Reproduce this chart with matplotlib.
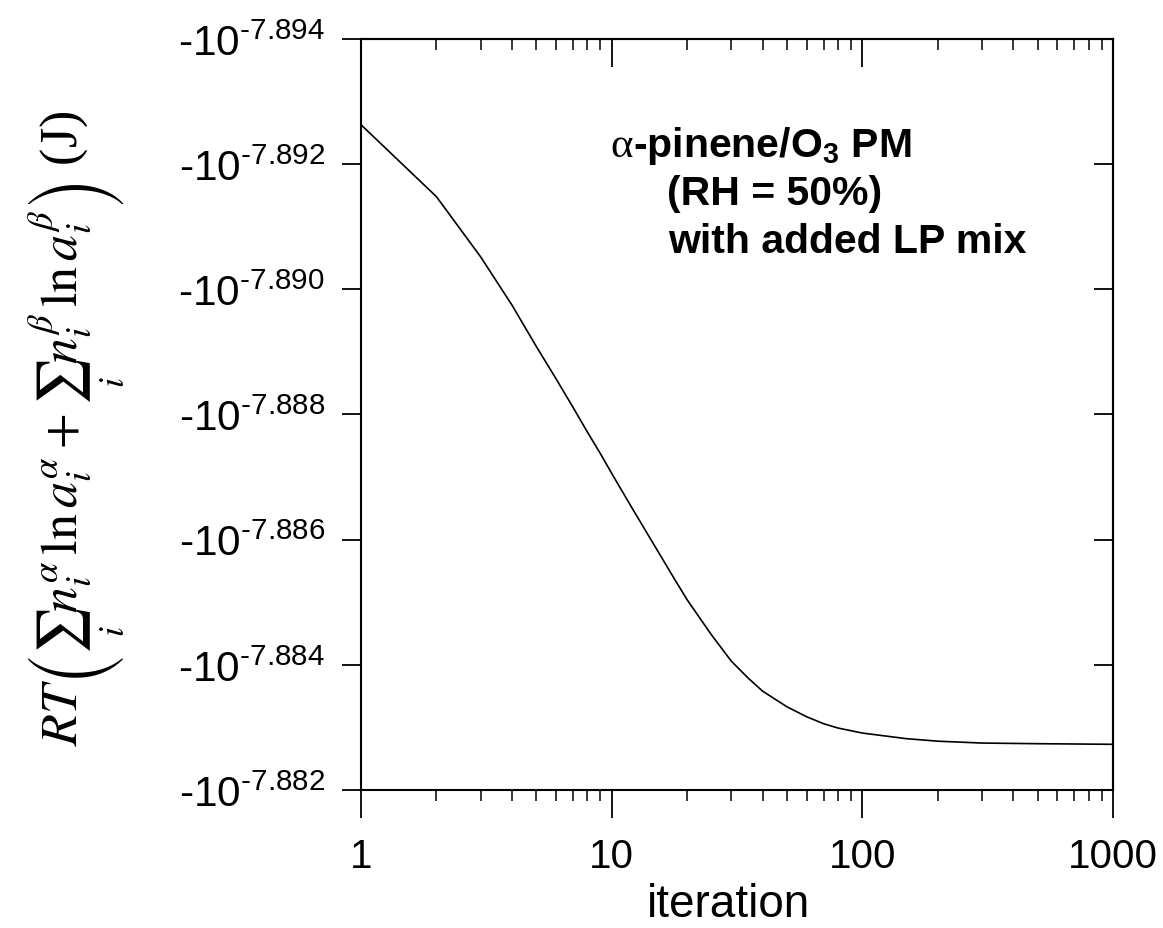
import numpy as np
import matplotlib.pyplot as plt
from matplotlib.ticker import FixedLocator, FuncFormatter, LogLocator, NullFormatter

# === Data ===
# y values are the exponent e in -10^e
iteration = [1, 2, 3, 4, 5, 6, 7, 8, 9, 10, 12, 15, 18, 20, 25, 30, 35, 40, 50, 60,
             70, 80, 100, 150, 200, 300, 500, 1000]
exponent = [-7.89263, -7.89148, -7.89052, -7.88975, -7.88909, -7.88857, -7.88812,
            -7.88772, -7.88738, -7.88706, -7.88652, -7.88587, -7.88534, -7.88504,
            -7.88448, -7.88406, -7.88379, -7.88358, -7.88333, -7.88317, -7.88306,
            -7.88299, -7.88291, -7.88282, -7.88278, -7.88275, -7.88274, -7.88273]
ytick_vals = [-7.894, -7.892, -7.890, -7.888, -7.886, -7.884, -7.882]
xtick_vals = [1, 10, 100, 1000]

plt.rcParams['font.family'] = ['Liberation Sans', 'DejaVu Sans']
plt.rcParams['mathtext.fontset'] = 'custom'
plt.rcParams['mathtext.rm'] = 'Liberation Sans'
plt.rcParams['mathtext.it'] = 'Liberation Sans:italic'
plt.rcParams['mathtext.bf'] = 'Liberation Sans:bold'

W, H = 1163, 929
fig = plt.figure(figsize=(W / 100, H / 100), dpi=100)
ax = fig.add_axes([361 / W, 1 - 791 / H, (1113 - 361) / W, (791 - 40) / H])

ax.plot(iteration, exponent, color='black', lw=1.2)

ax.set_xscale('log')
ax.set_xlim(1, 1000)
ax.set_ylim(-7.882, -7.894)


def ylab(v, pos):
    # hyphen instead of the math minus sign in the exponent
    return "-10$^{\u2010%.3f}$" % abs(v)


ax.xaxis.set_major_locator(FixedLocator(xtick_vals))
ax.xaxis.set_major_formatter(FuncFormatter(lambda v, p: f"{v:g}"))
ax.xaxis.set_minor_locator(LogLocator(base=10, subs=np.arange(2, 10)))
ax.xaxis.set_minor_formatter(NullFormatter())
ax.yaxis.set_major_locator(FixedLocator(ytick_vals))
ax.yaxis.set_major_formatter(FuncFormatter(ylab))

for s in ax.spines.values():
    s.set_linewidth(1.5)

ax.tick_params(axis='x', which='major', direction='out', length=20, width=1.3,
               labelsize=29, pad=14)
ax.tick_params(axis='x', which='minor', direction='out', length=8, width=1.1)
ax.tick_params(axis='y', which='major', direction='out', length=14, width=1.3,
               labelsize=30.5, pad=12)

# mirrored ticks pointing inward on top and right
top = ax.secondary_xaxis('top')
top.set_xticks(xtick_vals)
top.xaxis.set_minor_locator(LogLocator(base=10, subs=np.arange(2, 10)))
top.tick_params(which='major', direction='in', length=20, width=1.3, labeltop=False)
top.tick_params(which='minor', direction='in', length=8, width=1.1)
top.spines['top'].set_linewidth(1.5)
right = ax.secondary_yaxis('right')
right.set_yticks(ytick_vals)
right.tick_params(direction='in', length=14, width=1.3, labelright=False)
right.spines['right'].set_linewidth(1.5)

ax.set_xlabel('iteration', fontsize=33)
ax.xaxis.label.set_va('bottom')
ax.xaxis.set_label_coords((729 - 361) / 752, -(927 - 791) / 751)

fig.text(77 / W, 1 - 428 / H,
         r"$RT\left(\sum_i n_i^{\alpha}\,\ln a_i^{\alpha} + \sum_i n_i^{\beta}\,\ln a_i^{\beta}\right)$ (J)",
         rotation=90, ha='center', va='center', fontsize=37.5,
         family='Liberation Serif', math_fontfamily='stix')

# annotation
fig.text(610 / W, 1 - 157 / H, "α", fontsize=31, family='Liberation Serif',
         ha='left', va='baseline')
fig.text(633 / W, 1 - 157 / H, r"-pinene/O$_\mathbf{3}$ PM", fontsize=29.5,
         fontweight='bold', ha='left', va='baseline')
fig.text(667 / W, 1 - 205 / H, "(RH = 50%)", fontsize=29.5, fontweight='bold',
         ha='left', va='baseline')
fig.text(668 / W, 1 - 253 / H, "with added LP mix", fontsize=29.5, fontweight='bold',
         ha='left', va='baseline')

fig.savefig('out.png', dpi=100)
